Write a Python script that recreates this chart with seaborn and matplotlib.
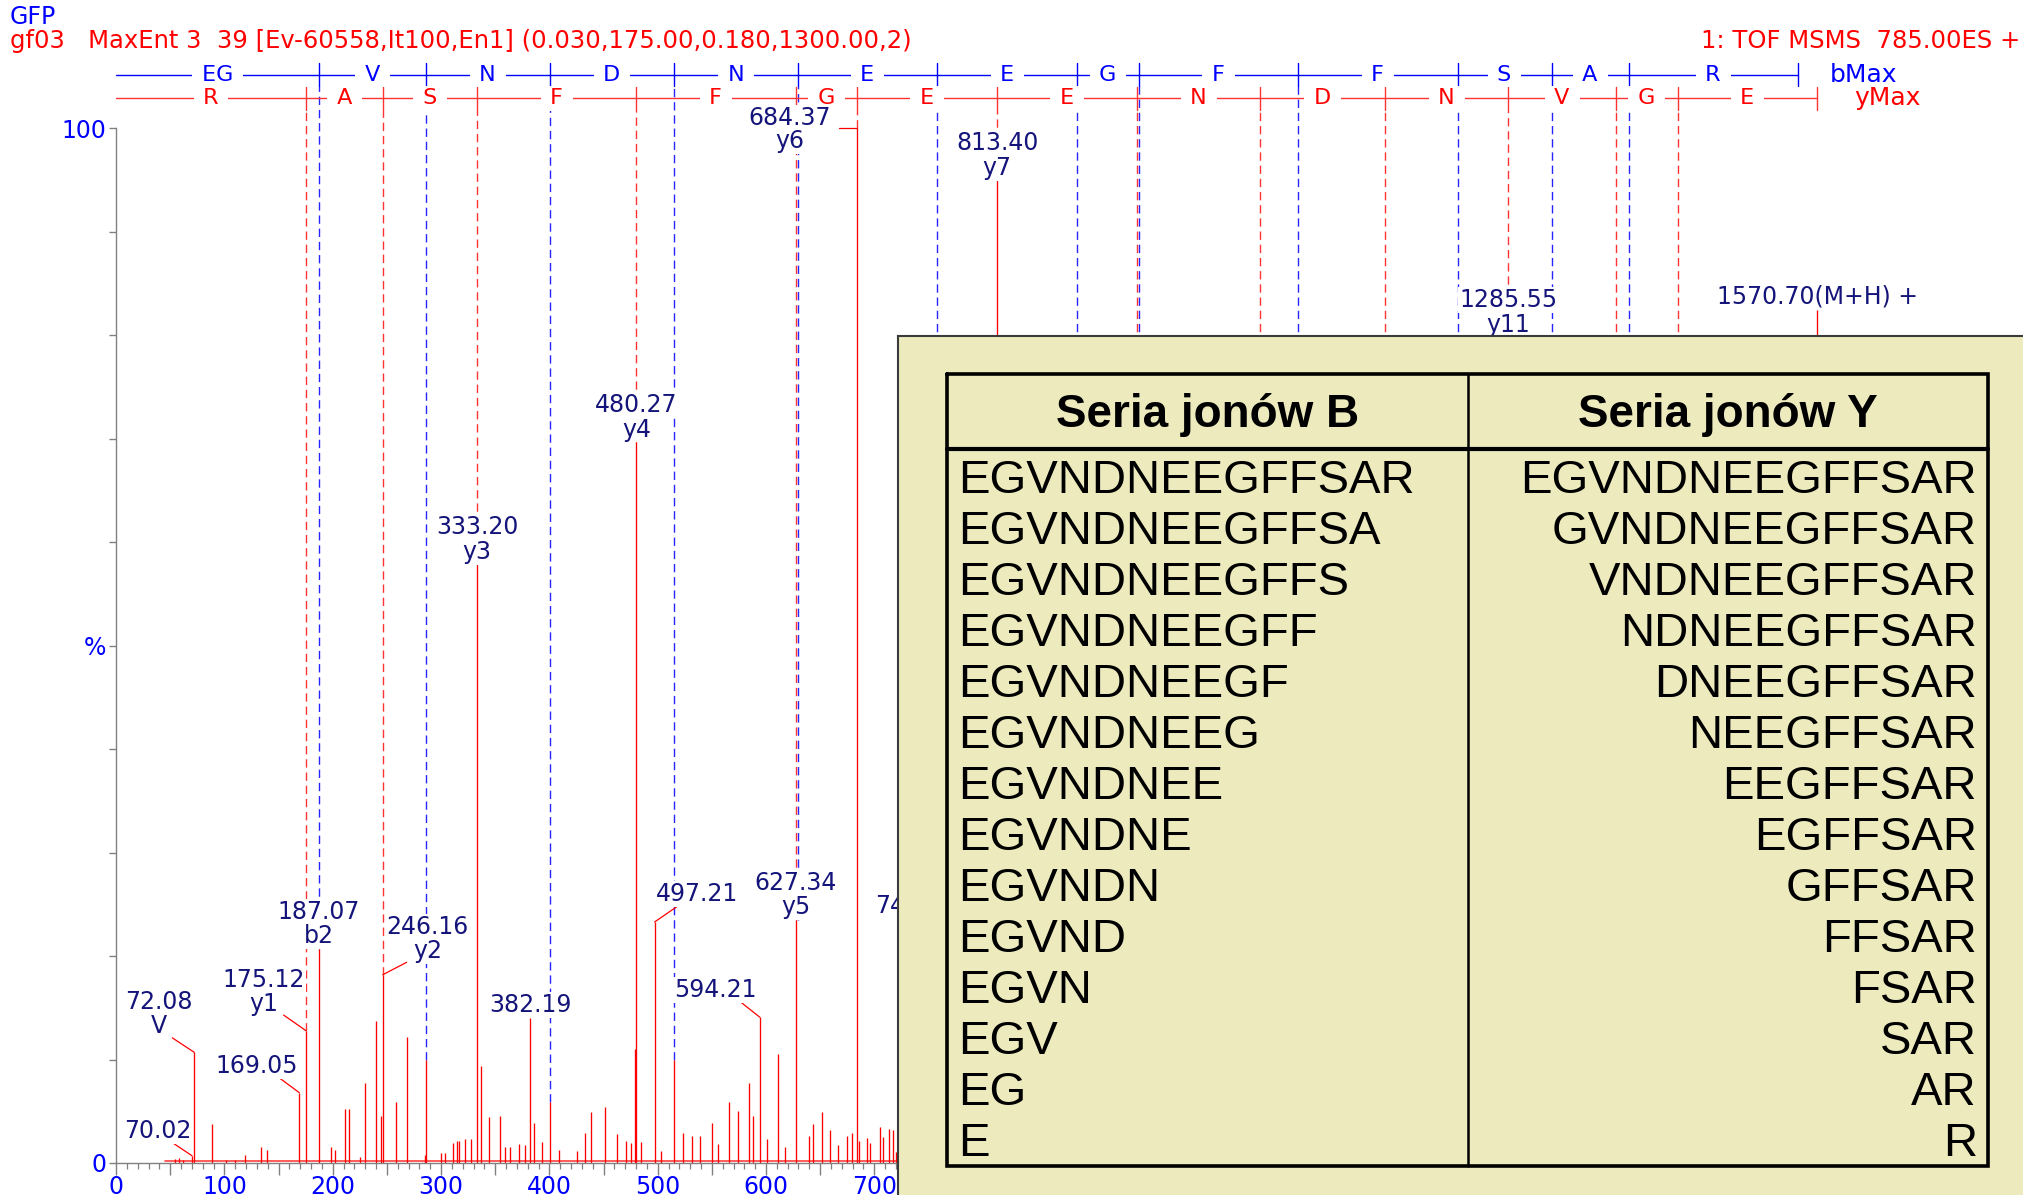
import numpy as np
import pandas as pd
import matplotlib
matplotlib.use("Agg")
import matplotlib.pyplot as plt
import seaborn as sns
from matplotlib.ticker import MultipleLocator, FuncFormatter

# ---------------- data ----------------
peak_mz = [54.0, 58.0, 62.0, 70.02, 72.08, 88.5, 101.0, 110.0, 119.3, 133.6, 138.9,
           169.05, 175.12, 187.07, 198.8, 202.5, 211.6, 214.7, 225.3, 230.1, 239.7,
           244.2, 246.16, 258.2, 268.3, 284.7, 286.14, 299.6, 303.3, 311.2, 315.0,
           316.5, 321.8, 327.2, 333.20, 336.7, 344.1, 354.7, 359.0, 364.0, 372.2,
           377.5, 382.19, 385.5, 393.4, 400.18, 409.3, 425.2, 433.2, 438.5, 451.7,
           462.4, 470.3, 475.6, 479.3, 480.27, 485.0, 497.21, 503.0, 515.21, 523.3,
           531.3, 539.2, 549.8, 556.0, 565.7, 573.7, 584.3, 588.0, 594.21, 601.0,
           611.5, 618.0, 627.34, 639.7, 643.7, 652.0, 659.0, 666.8, 675.0, 679.0,
           684.37, 686.0, 693.0, 696.0, 705.0, 708.0, 714.0, 717.0, 720.0,
           742.37, 813.40, 1285.55, 1570.70]
peak_int = [0.4, 0.5, 0.3, 0.7, 10.7, 3.8, 0.3, 0.3, 0.8, 1.5, 1.3,
            6.8, 12.8, 20.7, 1.5, 1.3, 5.2, 5.2, 0.6, 7.7, 13.7,
            4.5, 18.2, 5.9, 12.2, 0.8, 10.0, 1.0, 1.0, 1.9, 2.1,
            2.1, 2.3, 2.3, 57.9, 9.4, 4.4, 4.5, 1.5, 1.5, 1.8,
            1.7, 14.0, 3.9, 2.0, 5.9, 1.3, 1.2, 2.9, 4.9, 5.4,
            2.8, 2.1, 1.9, 11.0, 69.7, 2.0, 23.3, 1.2, 10.0, 2.9,
            2.6, 2.6, 3.9, 1.8, 5.9, 5.0, 7.7, 4.5, 14.1, 2.3,
            10.5, 1.5, 23.5, 2.6, 3.8, 4.9, 3.2, 1.7, 2.6, 2.9,
            100.0, 2.1, 2.4, 1.9, 3.5, 2.5, 3.3, 3.2, 1.1,
            23.5, 95.0, 79.8, 82.5]

b_ions = [187.07, 286.14, 400.18, 515.21, 629.25, 758.30, 887.34, 944.36,
          1091.43, 1238.50, 1325.53, 1396.57, 1552.67]
b_letters = ["EG", "V", "N", "D", "N", "E", "E", "G", "F", "F", "S", "A", "R"]
y_ions = [175.12, 246.16, 333.19, 480.26, 627.33, 684.35, 813.39, 942.44,
          1056.48, 1171.51, 1285.55, 1384.62, 1441.64, 1570.68]
y_letters = ["R", "A", "S", "F", "F", "G", "E", "E", "N", "D", "N", "V", "G", "E"]

label_mz = [70.02, 72.08, 169.05, 175.12, 187.07, 246.16, 333.20, 382.19, 480.27,
            497.21, 594.21, 627.34, 684.37, 742.37, 813.40, 1285.55, 1570.70]
label_num = ["70.02", "72.08", "169.05", "175.12", "187.07", "246.16", "333.20",
             "382.19", "480.27", "497.21", "594.21", "627.34", "684.37", "742.37",
             "813.40", "1285.55", "1570.70(M+H) +"]
label_ion = ["", "V", "", "y1", "b2", "y2", "y3", "", "y4", "", "", "y5", "y6",
             "", "y7", "y11", ""]

b_series = ["EGVNDNEEGFFSAR", "EGVNDNEEGFFSA", "EGVNDNEEGFFS", "EGVNDNEEGFF",
            "EGVNDNEEGF", "EGVNDNEEG", "EGVNDNEE", "EGVNDNE", "EGVNDN", "EGVND",
            "EGVN", "EGV", "EG", "E"]
y_series = ["EGVNDNEEGFFSAR", "GVNDNEEGFFSAR", "VNDNEEGFFSAR", "NDNEEGFFSAR",
            "DNEEGFFSAR", "NEEGFFSAR", "EEGFFSAR", "EGFFSAR", "GFFSAR", "FFSAR",
            "FSAR", "SAR", "AR", "R"]
table_headers = ["Seria jonów B", "Seria jonów Y"]

title_1 = "GFP"
title_2 = "gf03   MaxEnt 3  39 [Ev-60558,It100,En1] (0.030,175.00,0.180,1300.00,2)"
title_3 = "1: TOF MSMS  785.00ES +"

# ---------------- layout (label placement offsets) ----------------
label_layout = {
    70.02: dict(x=38.1, y_num=3.1, lead=(50.0, 2.1)),
    72.08: dict(x=39.3, y_num=15.6, y_ion=13.2, lead=(51.8, 12.1)),
    169.05: dict(x=129.9, y_num=9.4, lead=(149.7, 8.3)),
    175.12: dict(x=136.0, y_num=17.7, y_ion=15.4, lead=(154.6, 14.3)),
    246.16: dict(x=287.3, y_num=22.8, y_ion=20.5, lead=(268.2, 19.4)),
    497.21: dict(x=536.3, y_num=26.0, lead=(518.0, 24.8)),
    594.21: dict(x=553.0, y_num=16.7, lead=(574.9, 15.7)),
    684.37: dict(x=622.2, y_num=101.0, y_ion=98.8, lead=(667.4, 100.0)),
    742.37: dict(x=739.0),
}

RED = "#FF0000"
DRED = "#FF3333"
BLUE = "#0000FF"
DBLUE = "#2525FF"
NAVY = "#14147A"
GREY = "#808080"

sns.set_theme(style="white")
plt.rcParams["font.family"] = ["DejaVu Sans"]

df = pd.DataFrame({"mz": peak_mz, "intensity": peak_int})
pk_mz = df["mz"].to_numpy()
pk_int = df["intensity"].to_numpy()


def top_at(m, tol=2.5):
    d = np.abs(pk_mz - m)
    i = int(d.argmin())
    return float(pk_int[i]) if d[i] <= tol else 0.0


fig = plt.figure(figsize=(20.24, 11.95), dpi=100)
ax = fig.add_axes([0.0574, 0.02678, 0.8829, 0.8657])
ax.set_xlim(0, 1650)
ax.set_ylim(0, 100)
ax.set_facecolor("white")
sns.despine(ax=ax, top=True, right=True)
for s in ["left", "bottom"]:
    ax.spines[s].set_color(GREY)
    ax.spines[s].set_linewidth(1.0)

# noise baseline + peaks
ax.plot([45, 1650], [0.15, 0.15], color="#FF4040", lw=1.2, zorder=2.4)
ax.vlines(pk_mz, 0, pk_int, colors=RED, lw=0.95, zorder=2.5)

# ladders
y_b, y_y = 105.2, 102.9
tick_h = 1.1
dash = (0, (6, 3.5))
ax.plot([0, b_ions[-1]], [y_b, y_b], color=BLUE, lw=1.0, clip_on=False, zorder=3)
ax.plot([0, y_ions[-1]], [y_y, y_y], color=DRED, lw=1.0, clip_on=False, zorder=3)
for m in b_ions:
    ax.plot([m, m], [y_b - tick_h, y_b + tick_h], color=BLUE, lw=1.0, clip_on=False, zorder=3)
for m in y_ions:
    ax.plot([m, m], [y_y - tick_h, y_y + tick_h], color=DRED, lw=1.0, clip_on=False, zorder=3)

# dashed ion lines
for m in b_ions[:-1]:
    ax.plot([m, m], [top_at(m), y_b - tick_h], color=DBLUE, lw=1.0, ls=dash,
            clip_on=False, zorder=1.5)
for m in y_ions[:-1]:
    ax.plot([m, m], [top_at(m), y_y - tick_h], color=DRED, lw=1.0, ls=dash,
            clip_on=False, zorder=1.6)

lad_kw = dict(fontsize=16, ha="center", va="center", clip_on=False, zorder=5,
              bbox=dict(boxstyle="square,pad=0.12", fc="white", ec="none"))
bounds_b = [0] + b_ions
for i, let in enumerate(b_letters):
    ax.text((bounds_b[i] + bounds_b[i + 1]) / 2, y_b, " " + let + " ",
            color=BLUE, **lad_kw)
bounds_y = [0] + y_ions
for i, let in enumerate(y_letters):
    ax.text((bounds_y[i] + bounds_y[i + 1]) / 2, y_y, " " + let + " ",
            color=RED, **lad_kw)
ax.text(b_ions[-1] + 30, y_b, "bMax", color=BLUE, fontsize=18, ha="left",
        va="center", clip_on=False)
ax.text(y_ions[-1] + 34, y_y, "yMax", color=RED, fontsize=18, ha="left",
        va="center", clip_on=False)

# peak labels
lab_kw = dict(color=NAVY, fontsize=17, ha="center", va="center", zorder=6,
              clip_on=False,
              bbox=dict(boxstyle="square,pad=0.04", fc="white", ec="none"))
for m, num, ion in zip(label_mz, label_num, label_ion):
    top = top_at(m, tol=0.05)
    lay = label_layout.get(m, {})
    x = lay.get("x", m)
    if ion:
        ax.text(x, lay.get("y_num", top + 3.6), num, **lab_kw)
        ax.text(x, lay.get("y_ion", top + 1.2), ion, **lab_kw)
    else:
        ax.text(x, lay.get("y_num", top + 1.3), num, **lab_kw)
    if "lead" in lay:
        lx, ly = lay["lead"]
        ax.plot([lx, m], [ly, top], color=RED, lw=0.9, zorder=3, clip_on=False)

# axes ticks
ax.xaxis.set_major_locator(MultipleLocator(50))
ax.xaxis.set_minor_locator(MultipleLocator(10))
ax.xaxis.set_major_formatter(FuncFormatter(
    lambda v, p: f"{int(round(v))}" if abs(v % 100) < 1e-6 or abs(v % 100 - 100) < 1e-6 else ""))
ax.tick_params(axis="x", which="major", bottom=True, direction="out", length=8.5,
               width=1.0, color=GREY, labelcolor=BLUE, labelsize=17, pad=0)
ax.tick_params(axis="x", which="minor", bottom=True, direction="out", length=4,
               width=0.9, color=GREY)
ax.set_yticks(np.arange(0, 101, 10))
ax.set_yticklabels(["0", "", "", "", "", "%", "", "", "", "", "100"])
ax.tick_params(axis="y", left=True, direction="out", length=5, width=1.0,
               color=GREY, labelcolor=BLUE, labelsize=17, pad=2)
ax.grid(False)

# header texts
fig.text(0.005, 0.986, title_1, color=BLUE, fontsize=17, ha="left", va="center")
fig.text(0.005, 0.9654, title_2, color=RED, fontsize=17.5, ha="left", va="center")
fig.text(0.998, 0.9654, title_3, color=RED, fontsize=17.5, ha="right", va="center")

# table panel
tax = fig.add_axes([898 / 2024, 0, 1 - 898 / 2024, 1 - 336 / 1195], zorder=5)
tax.set_xlim(898, 2024)
tax.set_ylim(1195, 336)
tax.set_facecolor("#EDEBBE")
tax.set_xticks([])
tax.set_yticks([])
for s in ["right", "bottom"]:
    tax.spines[s].set_visible(False)
for s in ["left", "top"]:
    tax.spines[s].set_visible(True)
    tax.spines[s].set_color("#3A3A3A")
    tax.spines[s].set_linewidth(1.5)

xl, xr, xm = 947.5, 1988.0, 1467.5
yt, yb, yh = 373.5, 1165.5, 449.0
lc = "black"
tax.plot([xl, xr, xr, xl, xl], [yt, yt, yb, yb, yt], color=lc, lw=2.6,
         solid_joinstyle="miter")
tax.plot([xl, xr], [yh, yh], color=lc, lw=3.0)
tax.plot([xm, xm], [yt, yb], color=lc, lw=1.8)

tfam = ["Liberation Sans", "DejaVu Sans"]
tax.text((xl + xm) / 2, 415, table_headers[0], fontsize=33, fontweight="bold",
         family=tfam, ha="center", va="center", color="black")
tax.text((xm + xr) / 2, 415, table_headers[1], fontsize=33, fontweight="bold",
         family=tfam, ha="center", va="center", color="black")
for i, (bs, ys) in enumerate(zip(b_series, y_series)):
    yy = 481 + i * 51.0
    tax.text(958.5, yy, bs, fontsize=34, family=tfam, ha="left", va="center",
             color="black")
    tax.text(1977, yy, ys, fontsize=34, family=tfam, ha="right", va="center",
             color="black")

fig.savefig("out.png", dpi=100, facecolor="white")
